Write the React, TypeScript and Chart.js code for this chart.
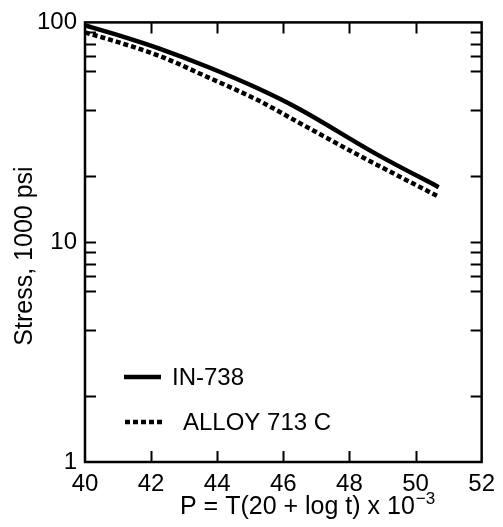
import React, { useEffect, useRef } from "react";
import { Chart, registerables } from "chart.js";

Chart.register(...registerables);

// Larson-Miller parameter (x) vs stress, 1000 psi (y)
const xIN738 = [40, 41, 42.25, 43.74, 45.24, 46.44, 48.83, 50.7];
const yIN738 = [97, 87.5, 76, 62.5, 50, 40.7, 25.1, 17.8];
const xAlloy713C = [40, 40.75, 42.25, 43.74, 45.24, 46.44, 48.23, 50.7];
const yAlloy713C = [90, 83.5, 70.4, 56.1, 44.2, 35.2, 25.1, 16.1];

const seriesNames = ["IN-738", "ALLOY 713 C"];
const xTickValues = [40, 42, 44, 46, 48, 50, 52];
const yTickValues = [1, 2, 4, 6, 7, 8, 9, 10, 20, 40, 60, 70, 80, 90, 100];
const yTickLabels = [1, 10, 100];

const xTitle = "P = T(20 + log t) x 10";
const xTitleSup = "\u22123";
const yTitle = "Stress, 1000 psi";

const FONT = "'Liberation Sans', Arial, Helvetica, sans-serif";

const framePlugin = {
  id: "frameAndTicks",
  afterDraw(chart: any) {
    const { ctx, chartArea } = chart;
    const { left, right, top, bottom } = chartArea;
    const xs = chart.scales.x;
    const ys = chart.scales.y;
    ctx.save();
    ctx.strokeStyle = "#000";
    ctx.lineWidth = 2.5;
    ctx.strokeRect(left, top, right - left, bottom - top);
    ctx.lineWidth = 2;
    const tl = 11;
    ctx.beginPath();
    xTickValues.forEach((v) => {
      if (v === xs.min || v === xs.max) return;
      const px = Math.round(xs.getPixelForValue(v)) + 0.5;
      ctx.moveTo(px, bottom);
      ctx.lineTo(px, bottom - tl);
      ctx.moveTo(px, top);
      ctx.lineTo(px, top + tl);
    });
    yTickValues.forEach((v) => {
      if (v === ys.min || v === ys.max) return;
      const py = Math.round(ys.getPixelForValue(v)) + 0.5;
      ctx.moveTo(left, py);
      ctx.lineTo(left + tl, py);
      ctx.moveTo(right, py);
      ctx.lineTo(right - tl, py);
    });
    ctx.stroke();

    // axis titles
    ctx.fillStyle = "#000";
    ctx.font = `25px ${FONT}`;
    ctx.textBaseline = "alphabetic";
    ctx.textAlign = "left";
    const tx = 180;
    const ty = 514;
    ctx.fillText(xTitle, tx, ty);
    const w = ctx.measureText(xTitle).width;
    ctx.font = `17px ${FONT}`;
    ctx.fillText(xTitleSup, tx + w + 1, ty - 10);

    ctx.save();
    ctx.translate(32, 256);
    ctx.rotate(-Math.PI / 2);
    ctx.font = `25px ${FONT}`;
    ctx.textAlign = "center";
    ctx.fillText(yTitle, 0, 0);
    ctx.restore();

    // legend inside plot
    const legendRows = [
      { y: 377, x0: 124, x1: 161, tx: 172 },
      { y: 422, x0: 125, x1: 165, tx: 183 },
    ];
    chart.data.datasets.forEach((ds: any, i: number) => {
      const r = legendRows[i];
      ctx.save();
      ctx.strokeStyle = ds.borderColor;
      ctx.lineWidth = ds.borderWidth;
      ctx.setLineDash(ds.borderDash || []);
      ctx.beginPath();
      ctx.moveTo(r.x0, r.y);
      ctx.lineTo(r.x1, r.y);
      ctx.stroke();
      ctx.restore();
      ctx.font = `24px ${FONT}`;
      ctx.textAlign = "left";
      ctx.textBaseline = "middle";
      ctx.fillText(ds.label, r.tx, r.y + 1);
    });
    ctx.restore();
  },
};

export default function App() {
  const ref = useRef<HTMLCanvasElement | null>(null);
  useEffect(() => {
    if (!ref.current) return;
    const chart = new Chart(ref.current, {
      type: "scatter",
      data: {
        datasets: [
          {
            label: seriesNames[0],
            data: xIN738.map((x, i) => ({ x, y: yIN738[i] })),
            showLine: true,
            borderColor: "#000",
            backgroundColor: "#000",
            borderWidth: 4.5,
            pointRadius: 0,
            cubicInterpolationMode: "monotone",
          },
          {
            label: seriesNames[1],
            data: xAlloy713C.map((x, i) => ({ x, y: yAlloy713C[i] })),
            showLine: true,
            borderColor: "#000",
            backgroundColor: "#000",
            borderWidth: 4.5,
            borderDash: [5, 3],
            pointRadius: 0,
            cubicInterpolationMode: "monotone",
          },
        ],
      },
      options: {
        animation: false,
        responsive: true,
        maintainAspectRatio: false,
        layout: { padding: { left: 0, right: 17, top: 16, bottom: 0 } },
        plugins: { legend: { display: false }, tooltip: { enabled: false } },
        scales: {
          x: {
            type: "linear",
            min: 40,
            max: 52,
            grid: { display: false, drawTicks: false },
            border: { display: false },
            afterBuildTicks: (s: any) => {
              s.ticks = xTickValues.map((v) => ({ value: v }));
            },
            afterFit: (s: any) => {
              s.height = 65;
            },
            ticks: {
              autoSkip: false,
              maxRotation: 0,
              padding: 8,
              color: "#000",
              font: { family: FONT, size: 24 },
            },
          },
          y: {
            type: "logarithmic",
            min: 1,
            max: 100,
            grid: { display: false, drawTicks: false },
            border: { display: false },
            afterBuildTicks: (s: any) => {
              s.ticks = yTickValues.map((v) => ({ value: v }));
            },
            afterFit: (s: any) => {
              s.width = 85;
            },
            ticks: {
              autoSkip: false,
              padding: 8,
              color: "#000",
              font: { family: FONT, size: 24 },
              callback: (v: any) => (yTickLabels.includes(Number(v)) ? String(v) : ""),
            },
          },
        },
      },
      plugins: [framePlugin],
    });
    return () => chart.destroy();
  }, []);
  return (
    <div style={{ position: "fixed", left: 0, top: 0, width: 503, height: 527, background: "#fff" }}>
      <canvas ref={ref} />
    </div>
  );
}
